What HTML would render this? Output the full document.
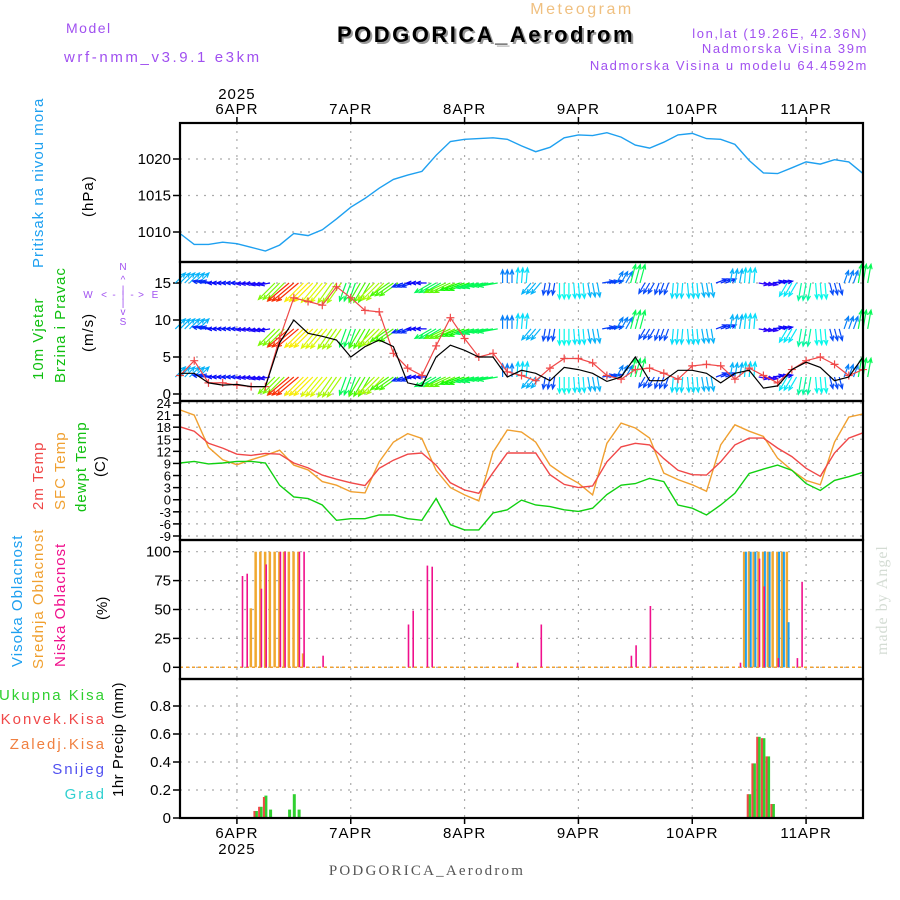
<!DOCTYPE html>
<html><head><meta charset="utf-8"><title>Meteogram PODGORICA_Aerodrom</title>
<style>
html,body{margin:0;padding:0;background:#fff;}
svg{display:block;font-family:"Liberation Sans",sans-serif;}
</style></head>
<body>
<svg id="chart" width="900" height="900" viewBox="0 0 900 900" xmlns="http://www.w3.org/2000/svg">
<rect width="900" height="900" fill="#fff"/>
<g>
<text x="66" y="33" font-size="14" fill="#a050f0" letter-spacing="1.5">Model</text>
<text x="64" y="62" font-size="15" fill="#a050f0" letter-spacing="2.6">wrf-nmm_v3.9.1  e3km</text>
<text x="582" y="14" font-size="16" fill="#f0c080" text-anchor="middle" letter-spacing="2.5">Meteogram</text>
<text x="488" y="44" font-size="22" font-weight="bold" fill="#999" text-anchor="middle" letter-spacing="2.5">PODGORICA_Aerodrom</text>
<text x="486" y="42" font-size="22" font-weight="bold" fill="#000" text-anchor="middle" letter-spacing="2.5">PODGORICA_Aerodrom</text>
<text x="868" y="38" font-size="13" fill="#a050f0" text-anchor="end" letter-spacing="1.6">lon,lat (19.26E, 42.36N)</text>
<text x="868" y="53" font-size="13" fill="#a050f0" text-anchor="end" letter-spacing="1.6">Nadmorska Visina 39m</text>
<text x="868" y="70" font-size="13" fill="#a050f0" text-anchor="end" letter-spacing="1.6">Nadmorska Visina u modelu 64.4592m</text>
<text x="427" y="875" font-size="15" fill="#555" text-anchor="middle" font-family="Liberation Serif, serif" letter-spacing="2.2">PODGORICA_Aerodrom</text>
<text transform="translate(887,655) rotate(-90)" font-size="16" fill="#d4dcd4" font-family="Liberation Serif, serif" letter-spacing="1">made by Angel</text>
</g>
<g>
<text transform="translate(43,268) rotate(-90)" font-size="15" fill="#1ea0f0" letter-spacing="1">Pritisak na nivou mora</text>
<text transform="translate(93,217) rotate(-90)" font-size="15" fill="#000" letter-spacing="1">(hPa)</text>
<text transform="translate(43,380) rotate(-90)" font-size="15" fill="#10c010" letter-spacing="1">10m Vjetar</text>
<text transform="translate(65,383) rotate(-90)" font-size="15" fill="#10c010" letter-spacing="1">Brzina i Pravac</text>
<text transform="translate(93,352) rotate(-90)" font-size="15" fill="#000" letter-spacing="1">(m/s)</text>
<g fill="#a050f0" font-size="10" text-anchor="middle">
<text x="123" y="270">N</text><text x="123" y="283">^</text><text x="123" y="293">|</text>
<text x="88" y="298">W</text><text x="104" y="298">&lt;</text><text x="114" y="298">-</text>
<text x="123" y="298">|</text><text x="132" y="298">-</text><text x="141" y="298">&gt;</text><text x="155" y="298">E</text>
<text x="123" y="306">|</text><text x="123" y="315">v</text><text x="123" y="325">S</text>
</g>
<text transform="translate(43,510) rotate(-90)" font-size="15" fill="#f04848" letter-spacing="1">2m Temp</text>
<text transform="translate(65,510) rotate(-90)" font-size="15" fill="#f0a030" letter-spacing="1">SFC Temp</text>
<text transform="translate(86,512) rotate(-90)" font-size="15" fill="#10c010" letter-spacing="1">dewpt Temp</text>
<text transform="translate(105,477) rotate(-90)" font-size="15" fill="#000">(C)</text>
<text transform="translate(22,667) rotate(-90)" font-size="15" fill="#1ea0f0" letter-spacing="1">Visoka Oblacnost</text>
<text transform="translate(43,669) rotate(-90)" font-size="15" fill="#f0a030" letter-spacing="1">Srednja Oblacnost</text>
<text transform="translate(65,667) rotate(-90)" font-size="15" fill="#f0108c" letter-spacing="1">Niska Oblacnost</text>
<text transform="translate(107,620) rotate(-90)" font-size="15" fill="#000">(%)</text>
<g font-size="15" text-anchor="end" letter-spacing="2">
<text x="106" y="700" fill="#30d030">Ukupna  Kisa</text>
<text x="106" y="724" fill="#f04848">Konvek.Kisa</text>
<text x="106" y="749" fill="#f08040">Zaledj.Kisa</text>
<text x="106" y="774" fill="#5050f0">Snijeg</text>
<text x="106" y="799" fill="#30d0d0">Grad</text>
</g>
<text transform="translate(123,797) rotate(-90)" font-size="15" fill="#000" letter-spacing="0.5">1hr Precip (mm)</text>
</g>
<g id="plot"></g>
</svg>
<script>
// ---------- data (3-hourly, starting 12Z 5APR) ----------
const dayLabels = ['6APR','7APR','8APR','9APR','10APR','11APR'];
const pressure = [1009.8,1008.3,1008.3,1008.6,1008.4,1007.9,1007.4,1008.2,1009.8,1009.5,1010.3,1011.8,1013.4,1014.6,1016.0,1017.2,1017.8,1018.3,1020.5,1022.4,1022.7,1022.8,1022.9,1022.7,1021.8,1021.0,1021.6,1022.9,1023.3,1023.2,1023.6,1023.0,1021.9,1021.5,1022.3,1023.3,1023.5,1022.8,1022.7,1022.0,1019.8,1018.1,1018.0,1018.8,1019.6,1019.3,1019.9,1019.6,1018.0];
const windSpeed = [2.8,2.8,1.5,1.2,1.3,1.0,1.0,6.9,10.0,8.2,7.8,7.3,5.0,6.4,7.3,6.4,1.5,1.1,5.0,6.6,5.9,5.0,5.0,2.3,3.2,2.8,1.8,3.6,3.3,2.8,1.7,2.3,5.0,1.8,1.8,3.2,3.2,2.8,1.5,2.8,3.2,0.8,1.1,3.3,4.3,3.6,1.8,2.3,5.0];
const windGust = [2.5,4.5,1.5,1.5,1.2,1.0,1.0,7.5,13.0,12.5,12.0,14.5,13.0,11.3,11.1,5.5,3.5,2.5,6.5,10.3,7.5,5.0,5.5,3.0,2.5,1.8,3.5,4.8,4.8,4.2,2.5,2.0,3.3,3.5,2.8,2.0,3.8,4.0,3.8,2.0,3.5,2.5,1.5,3.3,4.5,5.0,4.0,2.5,3.3];
const windDir = [45,45,170,180,180,185,190,225,220,225,230,235,250,240,225,215,200,180,210,205,200,195,190,90,85,230,260,270,275,280,10,60,75,240,250,265,275,280,20,80,85,350,10,240,260,275,285,70,80];
const t2m = [18.1,17.0,14.0,12.8,11.3,11.0,11.5,11.3,9.1,7.9,6.1,5.1,4.2,3.5,7.8,9.8,11.3,11.6,8.6,4.2,2.4,1.6,6.7,11.6,11.6,11.6,6.2,3.8,3.0,3.4,9.4,13.1,14.0,13.6,10.2,7.3,6.2,6.1,9.4,13.6,15.3,15.3,12.8,10.7,7.8,5.8,11.6,15.3,16.6];
const tSfc = [22.3,21.0,13.0,9.9,8.7,9.9,11.0,12.3,8.6,7.4,4.5,3.6,2.0,1.7,9.4,14.3,16.4,15.2,7.3,3.0,1.2,-0.3,11.8,17.3,16.8,14.3,8.6,6.1,4.1,1.2,14.0,19.0,17.8,15.3,6.6,5.0,3.7,2.1,13.6,18.6,17.0,15.7,10.3,7.3,4.8,3.7,14.3,20.5,21.3];
const tDew = [9.1,9.5,8.9,9.1,9.5,9.5,9.1,3.6,0.7,0.3,-1.3,-5.1,-4.7,-4.7,-3.8,-3.8,-4.7,-5.1,0.3,-6.2,-7.5,-7.5,-3.3,-2.5,-0.1,-1.3,-1.7,-2.5,-2.9,-2.1,1.3,3.6,4.0,5.3,4.5,-1.3,-2.1,-3.8,-1.3,1.6,6.5,7.6,8.6,7.3,4.0,2.3,4.8,5.7,6.8];
// cloud cover (hourly index, percent)
const lowCloudHours = [13,14,17,18,21,22,25,26,30,48,49,52,53,71,76,95,96,99,118,122,123,126,130,131];
const lowCloudValues = [79,81,68,89,100,100,100,100,10,37,49,88,87,4,37,10,19,53,4,94,70,8,8,74];
const midCloudHours = [15,16,17,18,19,20,21,22,23,24,25,26,119,120,121,122,123,124,125,126,127,128];
const midCloudValues = [51,100,100,100,100,100,100,100,100,100,100,12,100,100,100,100,100,100,100,100,100,100];
const highCloudHours = [119,120,121,123,124,126,127,128];
const highCloudValues = [100,100,100,100,100,100,100,39];
// precipitation (hourly index, mm)
const precipHours = [16,17,18,19,23,24,25,120,121,122,123,124,125];
const precipTotal = [0.05,0.08,0.16,0.06,0.06,0.17,0.06,0.17,0.39,0.58,0.57,0.44,0.10];
const precipConv = [0.05,0.08,0.15,0,0,0,0,0.17,0.39,0.58,0.57,0.44,0.10];
const pTicks = [1010,1015,1020];
const wTicks = [0,5,10,15];
const tTicks = [-9,-6,-3,0,3,6,9,12,15,18,21,24];
const cTicks = [0,25,50,75,100];
const rTicks = [0,0.2,0.4,0.6,0.8];

// ---------- scales ----------
const L = 180, R = 863;
const hx = h => L + h * (R - L) / 144;
const yP = p => 159 + (1020 - p) * 7.3;
const yW = v => 394 - v * 7.4;
const yT = t => 403 + (24 - t) * 4.03;
const yC = c => 667.3 - c * 1.156;
const yR = r => 818 - r * 140;
const panels = [[123,262],[262,401],[401,540],[540,679],[679,818]];

const NS = 'http://www.w3.org/2000/svg';
const plot = document.getElementById('plot');
function mk(tag, attrs, parent) {
  const e = document.createElementNS(NS, tag);
  for (const k in attrs) e.setAttribute(k, attrs[k]);
  (parent || plot).appendChild(e);
  return e;
}
function txt(s, attrs, parent) { const e = mk('text', attrs, parent); e.textContent = s; return e; }

// grid
const grid = mk('g', {stroke:'#aaa', 'stroke-width':1.2, 'stroke-dasharray':'2 6'});


panels.forEach(([t,b]) => {
  dayLabels.forEach((d,i) => mk('line', {x1:hx(12+24*i), x2:hx(12+24*i), y1:t, y2:b}, grid));
});
const hLines = (ticks, f) => ticks.forEach(v => mk('line', {x1:L, x2:R, y1:f(v), y2:f(v)}, grid));
hLines(pTicks, yP); hLines(wTicks, yW); hLines(tTicks, yT); hLines(cTicks, yC); hLines(rTicks, yR);

// tick labels
function yLabels(ticks, f, size, fmt, name) {
  const g = mk('g', {'font-size':size, 'text-anchor':'end', fill:'#000'});
  
  
  ticks.forEach(v => {
    mk('line', {x1:173, x2:L, y1:f(v), y2:f(v), stroke:'#000', 'stroke-width':1.5}, g);
    txt(fmt(v), {x:171, y:f(v)+5}, g);
  });
}
yLabels(pTicks, yP, 15, v => v, 'pressure-ticks');
yLabels(wTicks, yW, 15, v => v, 'wind-ticks');
yLabels(tTicks, yT, 13, v => v, 'temp-ticks');
yLabels(cTicks, yC, 15, v => v, 'cloud-ticks');
yLabels(rTicks, yR, 15, v => v === 0 ? '0' : v.toFixed(1), 'precip-ticks');

// x labels
const xl = mk('g', {'font-size':15, 'text-anchor':'middle', fill:'#000', 'letter-spacing':1});


dayLabels.forEach((d,i) => {
  const x = hx(12+24*i);
  txt(d, {x:x, y:114}, xl);
  txt(d, {x:x, y:838}, xl);
  mk('line', {x1:x, x2:x, y1:117, y2:123, stroke:'#000', 'stroke-width':1.5}, xl);
  mk('line', {x1:x, x2:x, y1:818, y2:824, stroke:'#000', 'stroke-width':1.5}, xl);
});
txt('2025', {x:hx(12), y:99}, xl);
txt('2025', {x:hx(12), y:854}, xl);

// line helper
function series(vals, f, color, name, width) {
  const pts = vals.map((v,i) => hx(3*i).toFixed(1) + ',' + f(v).toFixed(1)).join(' ');
  const p = mk('polyline', {points:pts, fill:'none', stroke:color, 'stroke-width':width || 1.4});
  
  
  return p;
}
series(pressure, yP, '#1ea0f0', 'pressure-line');

// wind arrows
function windColor(v) { const h = (270 - v * 26 + 360) % 360; return 'hsl(' + h + ',95%,50%)'; }
const wg = mk('g', {'stroke-width':1.2, fill:'none'});


const rows = [15, 8.8, 2.3];
windDir.forEach((dir, i) => {
  const v = windSpeed[i];
  const len = Math.min(28, 8 + v * 2.2);
  const a = dir * Math.PI / 180;
  const col = windColor(v);
  rows.forEach(r => {
    [-4.7, 0, 4.7].forEach(off => {
      const x0 = hx(3*i) + off, y0 = yW(r);
      const x1 = x0 + Math.cos(a) * len, y1 = y0 - Math.sin(a) * len;
      const ar = mk('path', {d:'M' + x0.toFixed(1) + ',' + y0.toFixed(1) + 'L' + x1.toFixed(1) + ',' + y1.toFixed(1) +
        'M' + (x1 - Math.cos(a - 0.4) * 5).toFixed(1) + ',' + (y1 + Math.sin(a - 0.4) * 5).toFixed(1) + 'L' + x1.toFixed(1) + ',' + y1.toFixed(1) +
        'L' + (x1 - Math.cos(a + 0.4) * 5).toFixed(1) + ',' + (y1 + Math.sin(a + 0.4) * 5).toFixed(1), stroke:col}, wg);
      
      
    });
  });
});
series(windGust, yW, '#f04848', 'wind-gust-line', 1.2);
const gm = mk('g', {stroke:'#f04848', 'stroke-width':1.2});


windGust.forEach((v,i) => {
  const x = hx(3*i), y = yW(v);
  mk('path', {d:'M' + (x-4) + ',' + y + 'H' + (x+4) + 'M' + x + ',' + (y-4) + 'V' + (y+4)}, gm);
});
series(windSpeed, yW, '#000', 'wind-speed-line', 1.2);

// temps
series(tSfc, yT, '#f0a030', 'sfc-temp-line');
series(t2m, yT, '#f04848', 't2m-line');
series(tDew, yT, '#10d010', 'dewpt-line');

// clouds
mk('line', {x1:L, x2:R, y1:yC(0), y2:yC(0), stroke:'#f0a030', 'stroke-width':1.5, 'stroke-dasharray':'3 3'});
function bars(hours, vals, f, base, color, off, w, name) {
  hours.forEach((h,i) => {
    const y = f(vals[i]);
    const b = mk('rect', {x:(hx(h)+off).toFixed(1), y:y.toFixed(1), width:w, height:Math.max(0, base - y).toFixed(1), fill:color});
    
    
  });
}
bars(midCloudHours, midCloudValues, yC, yC(0), '#f0a830', -1.5, 2.5, 'mid-cloud-bar');
bars(highCloudHours, highCloudValues, yC, yC(0), '#1ea0f0', 0.5, 2, 'high-cloud-bar');
bars(lowCloudHours, lowCloudValues, yC, yC(0), '#f0108c', 0, 1.6, 'low-cloud-bar');

// precipitation
bars(precipHours, precipTotal, yR, 818, '#30d030', -1, 3, 'total-precip-bar');
bars(precipHours, precipConv, yR, 818, '#f04848', -2.5, 2, 'conv-precip-bar');

// panel borders
panels.forEach(([t,b], i) => {
  const r = mk('rect', {x:L, y:t, width:R-L, height:b-t, fill:'none', stroke:'#000', 'stroke-width':2.2});
  
  
});
</script>
</body></html>
